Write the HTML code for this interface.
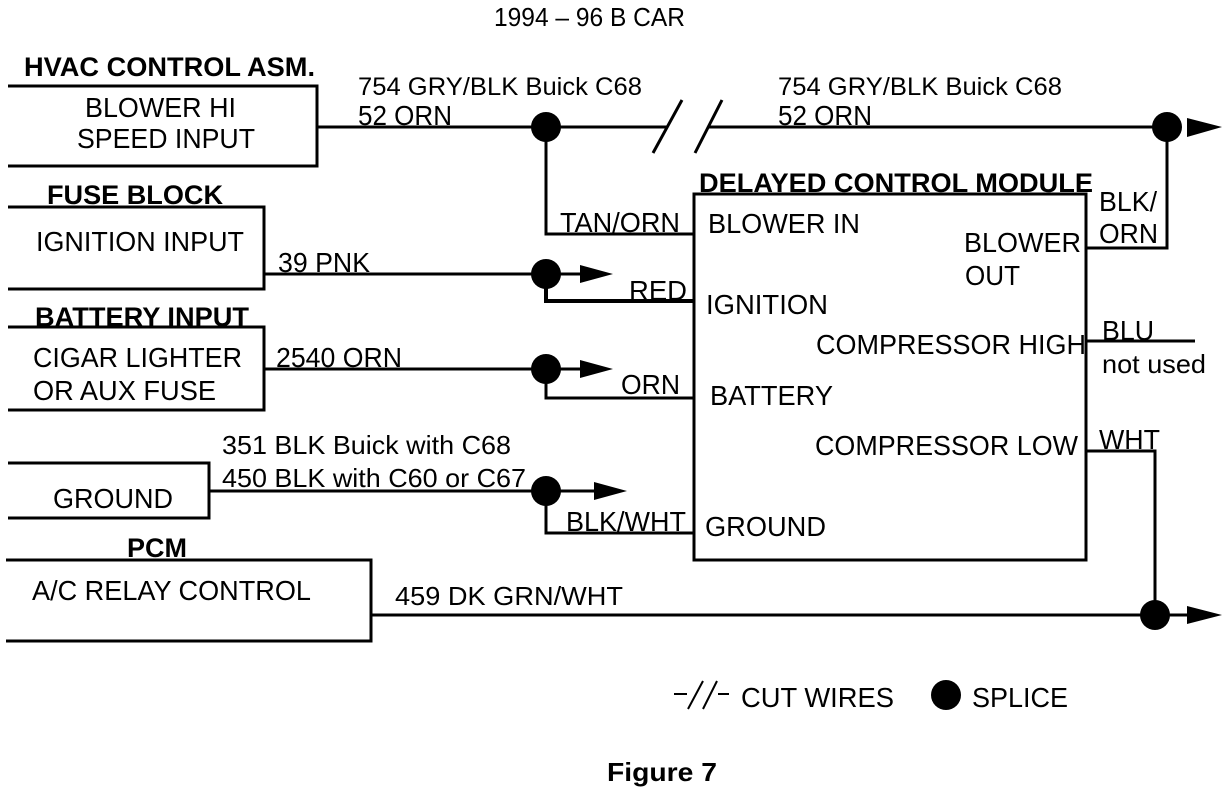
<!DOCTYPE html>
<html><head><meta charset="utf-8"><style>html,body{margin:0;padding:0;background:#fff}svg{display:block}text{font-family:"Liberation Sans",sans-serif;font-size:28px;fill:#000}.b{font-weight:bold;font-size:27px}</style></head><body>
<svg width="1232" height="808" viewBox="0 0 1232 808" xmlns="http://www.w3.org/2000/svg">
<g fill="none" stroke="#000" stroke-width="3">
<path d="M8 86H317V166H8"/>
<path d="M8 207H264V289H8"/>
<path d="M8 327H264V410H8"/>
<path d="M8 463H209V518H8"/>
<path d="M6 560H371V641H6"/>
<path d="M694 194H1086V560H694Z"/>
<path d="M317 127H667M708 127H1167"/>
<path d="M653 153L682 100M695 153L722 100"/>
<path d="M546 127V234H694"/>
<path d="M264 274H590"/>
<path d="M546 274V301H694" stroke-width="4"/>
<path d="M264 369H590M546 369V398H694"/>
<path d="M209 491H600M546 491V533H694"/>
<path d="M371 615H1190"/>
<path d="M1086 248H1167V127"/>
<path d="M1086 341H1195"/>
<path d="M1086 451H1155V615"/>
<path d="M674 694H687M688 709L703 681M703 709L717 681M718 694H729" stroke-width="2"/>
</g>
<g fill="#000">
<circle cx="546" cy="127" r="15"/><circle cx="1167" cy="127" r="15"/>
<circle cx="546" cy="274" r="15"/><circle cx="546" cy="369" r="15"/>
<circle cx="546" cy="491" r="15"/><circle cx="1155" cy="615" r="15"/>
<circle cx="946" cy="695" r="15"/>
<path d="M1187 118L1222 127L1187 137Z"/><path d="M580 265L613 274L580 283Z"/>
<path d="M580 360L613 369L580 378Z"/><path d="M594 482L627 491L594 500Z"/>
<path d="M1187 606L1222 615L1187 624Z"/>
</g>
<text x="494" y="26" style="font-size:26px" textLength="191" lengthAdjust="spacingAndGlyphs">1994 – 96 B CAR</text>
<text x="24" y="76" class="b" textLength="291" lengthAdjust="spacingAndGlyphs">HVAC CONTROL ASM.</text>
<text x="85" y="117" textLength="151" lengthAdjust="spacingAndGlyphs">BLOWER HI</text>
<text x="77" y="148" textLength="178" lengthAdjust="spacingAndGlyphs">SPEED INPUT</text>
<text x="358" y="95" style="font-size:25px" textLength="284" lengthAdjust="spacingAndGlyphs">754 GRY/BLK Buick C68</text>
<text x="358" y="125" textLength="94" lengthAdjust="spacingAndGlyphs">52 ORN</text>
<text x="778" y="95" style="font-size:25px" textLength="284" lengthAdjust="spacingAndGlyphs">754 GRY/BLK Buick C68</text>
<text x="778" y="125" textLength="94" lengthAdjust="spacingAndGlyphs">52 ORN</text>
<text x="47" y="204" class="b" textLength="176" lengthAdjust="spacingAndGlyphs">FUSE BLOCK</text>
<text x="36" y="251" textLength="208" lengthAdjust="spacingAndGlyphs">IGNITION INPUT</text>
<text x="278" y="272" textLength="92" lengthAdjust="spacingAndGlyphs">39 PNK</text>
<text x="35" y="326" class="b" textLength="214" lengthAdjust="spacingAndGlyphs">BATTERY INPUT</text>
<text x="33" y="367" textLength="209" lengthAdjust="spacingAndGlyphs">CIGAR LIGHTER</text>
<text x="33" y="400" textLength="183" lengthAdjust="spacingAndGlyphs">OR AUX FUSE</text>
<text x="276" y="367" textLength="126" lengthAdjust="spacingAndGlyphs">2540 ORN</text>
<text x="222" y="454" style="font-size:26px" textLength="289" lengthAdjust="spacingAndGlyphs">351 BLK Buick with C68</text>
<text x="222" y="487" style="font-size:26px" textLength="304" lengthAdjust="spacingAndGlyphs">450 BLK with C60 or C67</text>
<text x="53" y="508" textLength="120" lengthAdjust="spacingAndGlyphs">GROUND</text>
<text x="127" y="557" class="b" textLength="60" lengthAdjust="spacingAndGlyphs">PCM</text>
<text x="32" y="600" textLength="279" lengthAdjust="spacingAndGlyphs">A/C RELAY CONTROL</text>
<text x="395" y="605" style="font-size:26px" textLength="228" lengthAdjust="spacingAndGlyphs">459 DK GRN/WHT</text>
<text x="699" y="192" class="b" textLength="394" lengthAdjust="spacingAndGlyphs">DELAYED CONTROL MODULE</text>
<text x="560" y="232" textLength="120" lengthAdjust="spacingAndGlyphs">TAN/ORN</text>
<text x="708" y="233" textLength="152" lengthAdjust="spacingAndGlyphs">BLOWER IN</text>
<text x="629" y="300" textLength="58" lengthAdjust="spacingAndGlyphs">RED</text>
<text x="706" y="314" textLength="122" lengthAdjust="spacingAndGlyphs">IGNITION</text>
<text x="621" y="394" textLength="59" lengthAdjust="spacingAndGlyphs">ORN</text>
<text x="710" y="405" textLength="123" lengthAdjust="spacingAndGlyphs">BATTERY</text>
<text x="566" y="531" textLength="120" lengthAdjust="spacingAndGlyphs">BLK/WHT</text>
<text x="705" y="536" textLength="121" lengthAdjust="spacingAndGlyphs">GROUND</text>
<text x="964" y="252" textLength="117" lengthAdjust="spacingAndGlyphs">BLOWER</text>
<text x="965" y="285" textLength="55" lengthAdjust="spacingAndGlyphs">OUT</text>
<text x="816" y="354" textLength="270" lengthAdjust="spacingAndGlyphs">COMPRESSOR HIGH</text>
<text x="815" y="455" textLength="263" lengthAdjust="spacingAndGlyphs">COMPRESSOR LOW</text>
<text x="1099" y="211" textLength="58" lengthAdjust="spacingAndGlyphs">BLK/</text>
<text x="1099" y="243" textLength="59" lengthAdjust="spacingAndGlyphs">ORN</text>
<text x="1102" y="340" textLength="52" lengthAdjust="spacingAndGlyphs">BLU</text>
<text x="1102" y="373" style="font-size:26px" textLength="104" lengthAdjust="spacingAndGlyphs">not used</text>
<text x="1099" y="449" textLength="61" lengthAdjust="spacingAndGlyphs">WHT</text>
<text x="741" y="707" textLength="153" lengthAdjust="spacingAndGlyphs">CUT WIRES</text>
<text x="972" y="707" textLength="96" lengthAdjust="spacingAndGlyphs">SPLICE</text>
<text x="607" y="781" class="b" style="font-size:26px" textLength="110" lengthAdjust="spacingAndGlyphs">Figure 7</text>
</svg>
</body></html>
